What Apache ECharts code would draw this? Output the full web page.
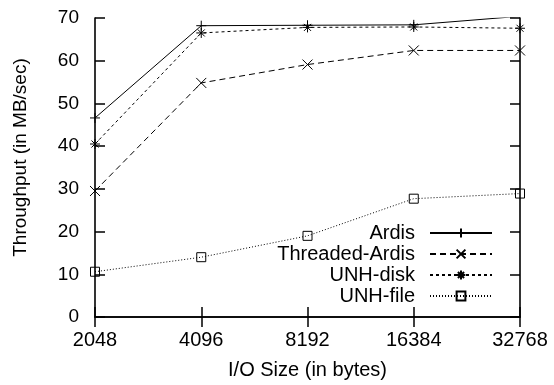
<!DOCTYPE html>
<html>
<head>
<meta charset="utf-8">
<script src="https://cdn.jsdelivr.net/npm/echarts@6/dist/echarts.min.js"></script>
<style>
html,body{margin:0;padding:0;background:#fff;}
#c{width:554px;height:385px;}
</style>
</head>
<body>
<div id="c"></div>
<script>
var categories = ['2048', '4096', '8192', '16384', '32768'];
var ardis = [46.6, 68.2, 68.3, 68.4, 70.4];
var threadedArdis = [29.5, 54.8, 59.1, 62.4, 62.4];
var unhDisk = [40.5, 66.5, 67.8, 67.9, 67.6];
var unhFile = [10.6, 14.0, 19.0, 27.7, 28.9];
var yTicks = [0, 10, 20, 30, 40, 50, 60, 70];

var FONT = '"Liberation Sans", Arial, Helvetica, sans-serif';
var plusPath = 'path://M0,5L10,5M5,0L5,10';
var crossPath = 'path://M0,0L10,10M10,0L0,10';
var starPath = 'path://M0,5L10,5M5,0L5,10M1.5,1.5L8.5,8.5M8.5,1.5L1.5,8.5';
var squarePath = 'path://M0,0L10,0L10,10L0,10Z';

function mkSeries(name, data, symbol, size, lineType) {
  return {
    name: name,
    type: 'line',
    data: data,
    xAxisIndex: 0,
    yAxisIndex: 0,
    clip: true,
    symbol: symbol,
    symbolSize: size,
    showAllSymbol: true,
    lineStyle: { color: '#000', width: 1, type: lineType },
    itemStyle: { color: 'rgba(0,0,0,0)', borderColor: '#000', borderWidth: 1 },
    emphasis: { disabled: true },
    z: 3
  };
}

function mkLegend(name, top) {
  return {
    data: [name],
    right: 61,
    top: top,
    orient: 'vertical',
    align: 'right',
    padding: 0,
    itemWidth: 62,
    itemHeight: 11,
    selectedMode: false,
    textStyle: { fontFamily: FONT, fontSize: 20, color: '#000', padding: [0, 10, 0, 0] }
  };
}

var axisLine = { show: true, lineStyle: { color: '#000', width: 1.6 } };
var axisTick = { show: true, inside: true, length: 10, lineStyle: { color: '#000', width: 1.5 } };

var chart = echarts.init(document.getElementById('c'));
chart.setOption({
  animation: false,
  backgroundColor: '#fff',
  grid: { left: 95, right: 34, top: 18, bottom: 67, containLabel: false },
  legend: [
    mkLegend('Ardis', 223),
    mkLegend('Threaded-Ardis', 244),
    mkLegend('UNH-disk', 265),
    mkLegend('UNH-file', 286)
  ],
  xAxis: [{
    type: 'category',
    data: categories,
    boundaryGap: false,
    position: 'bottom',
    axisLine: axisLine,
    axisTick: Object.assign({ alignWithLabel: true }, axisTick),
    axisLabel: { fontFamily: FONT, fontSize: 20, color: '#000', margin: 13 },
    splitLine: { show: false },
    name: 'I/O Size (in bytes)',
    nameLocation: 'middle',
    nameGap: 43,
    nameTextStyle: { fontFamily: FONT, fontSize: 20, color: '#000' }
  }, {
    type: 'category',
    data: categories,
    boundaryGap: false,
    position: 'top',
    axisLine: axisLine,
    axisTick: axisTick,
    axisLabel: { show: false },
    splitLine: { show: false }
  }],
  yAxis: [{
    type: 'value',
    min: yTicks[0],
    max: yTicks[yTicks.length - 1],
    interval: 10,
    position: 'left',
    axisLine: axisLine,
    axisTick: axisTick,
    axisLabel: { fontFamily: FONT, fontSize: 19, color: '#000', margin: 16 },
    splitLine: { show: false },
    name: 'Throughput (in MB/sec)',
    nameLocation: 'middle',
    nameRotate: 90,
    nameGap: 65,
    nameTextStyle: { fontFamily: FONT, fontSize: 19, color: '#000', padding: [0, 0, 0, 20] }
  }, {
    type: 'value',
    min: yTicks[0],
    max: yTicks[yTicks.length - 1],
    interval: 10,
    position: 'right',
    axisLine: axisLine,
    axisTick: axisTick,
    axisLabel: { show: false },
    splitLine: { show: false }
  }],
  series: [
    mkSeries('Ardis', ardis, plusPath, 10, 'solid'),
    mkSeries('Threaded-Ardis', threadedArdis, crossPath, 10, [6, 4]),
    mkSeries('UNH-disk', unhDisk, starPath, 10, [3, 3]),
    mkSeries('UNH-file', unhFile, squarePath, 9, [1, 2])
  ]
});
</script>
</body>
</html>
